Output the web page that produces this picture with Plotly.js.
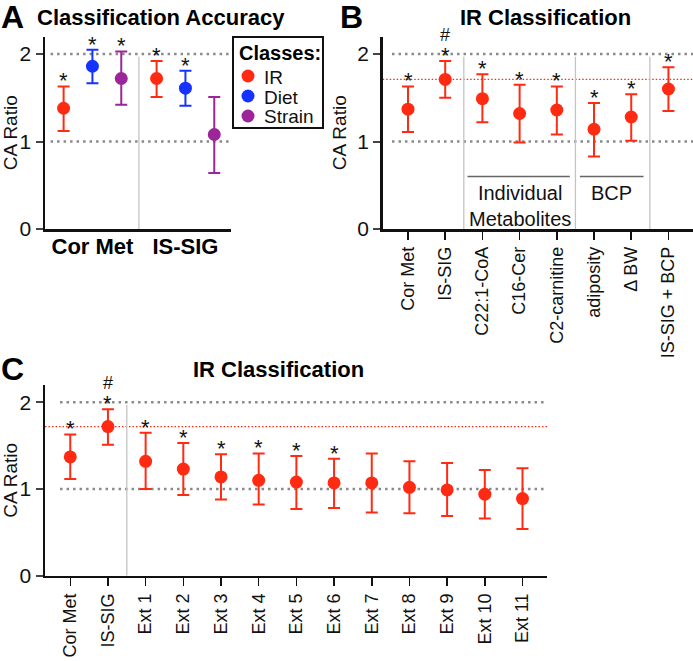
<!DOCTYPE html>
<html>
<head>
<meta charset="utf-8">
<script src="https://cdn.plot.ly/plotly-3.0.1.min.js"></script>
<style>
  html, body { margin: 0; padding: 0; background: #fff; }
  #chart { width: 693px; height: 661px; }
</style>
</head>
<body>
<div id="chart"></div>
<script>
// ---- panel A: classification accuracy by class ----
const groupsA = ['Cor Met', 'IS-SIG'];
const classNames = ['IR', 'Diet', 'Strain'];
const classColors = ['#ff2a12', '#1533ff', '#9b2599'];
const meanA = [[1.38, 1.72], [1.86, 1.61], [1.72, 1.08]];
const hiA = [[1.63, 1.92], [2.05, 1.81], [2.03, 1.51]];
const loA = [[1.12, 1.51], [1.665, 1.41], [1.42, 0.64]];
const starA = [[true, true], [true, true], [true, false]];

// ---- panel B: IR classification ----
const catsB = ['Cor Met', 'IS-SIG', 'C22:1-CoA', 'C16-Cer', 'C2-carnitine', 'adiposity', 'Δ BW', 'IS-SIG + BCP'];
const meanB = [1.37, 1.71, 1.49, 1.32, 1.36, 1.14, 1.28, 1.60];
const hiB = [1.63, 1.92, 1.77, 1.65, 1.63, 1.44, 1.54, 1.85];
const loB = [1.11, 1.50, 1.22, 0.99, 1.08, 0.83, 1.01, 1.35];
const starB = [true, true, true, true, true, true, true, true];
const hashB = [false, true, false, false, false, false, false, false];

// ---- panel C: IR classification, external sets ----
const catsC = ['Cor Met', 'IS-SIG', 'Ext 1', 'Ext 2', 'Ext 3', 'Ext 4', 'Ext 5', 'Ext 6', 'Ext 7', 'Ext 8', 'Ext 9', 'Ext 10', 'Ext 11'];
const meanC = [1.37, 1.72, 1.32, 1.23, 1.14, 1.10, 1.08, 1.07, 1.07, 1.02, 0.99, 0.94, 0.89];
const hiC = [1.63, 1.92, 1.65, 1.53, 1.40, 1.41, 1.38, 1.35, 1.41, 1.32, 1.30, 1.22, 1.24];
const loC = [1.115, 1.51, 1.00, 0.93, 0.88, 0.82, 0.77, 0.78, 0.73, 0.72, 0.69, 0.66, 0.54];
const starC = [true, true, true, true, true, true, true, true, false, false, false, false, false];
const hashC = [false, true, false, false, false, false, false, false, false, false, false, false, false];

const RED = '#ff2a12';
const FONT = 'Arial, "Liberation Sans", sans-serif';
const offsets = [-0.31, 0, 0.31];
const W = 693, H = 661;
const px = (v) => v / W, py = (v) => 1 - v / H;

function errBar(mean, hi, lo, color) {
	return {
		type: 'data', symmetric: false,
		array: hi.map((h, i) => h - mean[i]),
		arrayminus: lo.map((l, i) => mean[i] - l),
		color: color, thickness: 2, width: 6
	};
}

const data = [];
classNames.forEach((name, k) => {
	data.push({
		x: groupsA.map((g, i) => i + 1 + offsets[k]),
		y: meanA[k],
		name: name,
		type: 'scatter', mode: 'markers',
		marker: { color: classColors[k], size: 13 },
		error_y: errBar(meanA[k], hiA[k], loA[k], classColors[k]),
		xaxis: 'x', yaxis: 'y'
	});
});
data.push({
	x: catsB.map((c, i) => i), y: meanB,
	type: 'scatter', mode: 'markers',
	marker: { color: RED, size: 13 },
	error_y: errBar(meanB, hiB, loB, RED),
	xaxis: 'x2', yaxis: 'y2'
});
data.push({
	x: catsC.map((c, i) => i), y: meanC,
	type: 'scatter', mode: 'markers',
	marker: { color: RED, size: 13 },
	error_y: errBar(meanC, hiC, loC, RED),
	xaxis: 'x3', yaxis: 'y3'
});

// significance marks
const annotations = [];
function stars(xs, hi, flags, hashes, xa, ya) {
	xs.forEach((x, i) => {
		if (!flags[i]) return;
		annotations.push({ x: x, y: hi[i], xref: xa, yref: ya, text: '*', showarrow: false,
			yanchor: 'bottom', yshift: -9, font: { family: FONT, size: 22, color: '#111' } });
		if (hashes && hashes[i]) {
			annotations.push({ x: x, y: hi[i], xref: xa, yref: ya, text: '#', showarrow: false,
				yanchor: 'bottom', yshift: 14, font: { family: FONT, size: 18, color: '#111' } });
		}
	});
}
classNames.forEach((n, k) => stars(groupsA.map((g, i) => i + 1 + offsets[k]), hiA[k], starA[k], null, 'x', 'y'));
stars(catsB.map((c, i) => i), hiB, starB, hashB, 'x2', 'y2');
stars(catsC.map((c, i) => i), hiC, starC, hashC, 'x3', 'y3');

// panel letters and titles
const txt = (s, c) => ({ family: FONT, size: s, color: c || '#000' });
const label = (x, y, text, font, xanchor) => ({ x: px(x), y: py(y), xref: 'paper', yref: 'paper', text: text,
	showarrow: false, xanchor: xanchor || 'center', yanchor: 'middle', font: font });
annotations.push(
	label(-1, 17, '<b>A</b>', txt(32), 'left'),
	label(161, 17, '<b>Classification Accuracy</b>', txt(22)),
	label(338, 17, '<b>B</b>', txt(32), 'left'),
	label(545, 17, '<b>IR Classification</b>', txt(22)),
	label(-1, 369, '<b>C</b>', txt(32), 'left'),
	label(278, 369, '<b>IR Classification</b>', txt(22)),
	{ x: 3, y: 0.565, xref: 'x2', yref: 'y2', text: 'Individual<br>Metabolites', showarrow: false, yanchor: 'top', font: txt(20, '#111') },
	{ x: 5.48, y: 0.565, xref: 'x2', yref: 'y2', text: 'BCP', showarrow: false, yanchor: 'top', font: txt(20, '#111') }
);

// reference lines and dividers
const shapes = [];
const dotGray = { color: '#8a8a8a', width: 2.5, dash: '2.5px,4px' };
const dotRed = { color: RED, width: 1.3, dash: '1.5px,2px' };
[['x', 'y'], ['x2', 'y2'], ['x3', 'y3']].forEach(([xa, ya]) => {
	[1, 2].forEach(v => shapes.push({ type: 'line', xref: xa + ' domain', yref: ya, x0: 0.03, x1: 1, y0: v, y1: v, line: dotGray, layer: 'below' }));
});
shapes.push({ type: 'line', xref: 'x2 domain', yref: 'y2', x0: 0, x1: 1, y0: meanB[1], y1: meanB[1], line: dotRed, layer: 'below' });
shapes.push({ type: 'line', xref: 'x3 domain', yref: 'y3', x0: 0, x1: 1, y0: meanC[1], y1: meanC[1], line: dotRed, layer: 'below' });
const divider = { color: '#c4c4c4', width: 1.3 };
[['x', 'y', 1.5], ['x2', 'y2', 1.5], ['x2', 'y2', 4.5], ['x2', 'y2', 6.5], ['x3', 'y3', 1.5]].forEach(([xa, ya, v]) => {
	shapes.push({ type: 'line', xref: xa, yref: ya, x0: v, x1: v, y0: 0, y1: 1.97, line: divider, layer: 'below' });
});
shapes.push({ type: 'line', xref: 'x2', yref: 'y2', x0: 1.6, x1: 4.35, y0: 0.6, y1: 0.6, line: { color: '#666', width: 1.5 } });
shapes.push({ type: 'line', xref: 'x2', yref: 'y2', x0: 4.62, x1: 6.33, y0: 0.6, y1: 0.6, line: { color: '#666', width: 1.5 } });

// class key for panel A
shapes.push({ type: 'rect', xref: 'paper', yref: 'paper', x0: px(233), x1: px(323), y0: py(37), y1: py(128),
	line: { color: '#111', width: 2 }, fillcolor: '#fff' });
annotations.push(label(280, 53, '<b>Classes:</b>', txt(20)));
const keyY = [76, 96, 116];
classNames.forEach((name, k) => {
	shapes.push({ type: 'circle', xref: 'paper', yref: 'paper', xsizemode: 'pixel', ysizemode: 'pixel',
		xanchor: px(248), yanchor: py(keyY[k]), x0: -6.5, x1: 6.5, y0: -6.5, y1: 6.5,
		fillcolor: classColors[k], line: { width: 0 } });
	annotations.push(label(262, keyY[k] + 1, name, txt(19, '#111'), 'left'));
});

function yAxis(domain, anchor) {
	return {
		domain: domain, anchor: anchor, range: [0, 2.2],
		tickvals: [0, 1, 2], ticks: 'outside', ticklen: 7, tickwidth: 2,
		showline: true, linecolor: '#111', linewidth: 2.5, showgrid: false, zeroline: false,
		tickfont: txt(21, '#111'),
		title: { text: 'CA Ratio', font: txt(19, '#111'), standoff: 6 },
		fixedrange: true
	};
}
function xAxis(domain, anchor, range, cats) {
	return {
		domain: domain, anchor: anchor, range: range,
		tickvals: cats.map((c, i) => i), ticktext: cats, tickangle: -90,
		ticks: 'outside', ticklen: 8, tickwidth: 1.5, tickcolor: '#111',
		showline: true, linecolor: '#111', linewidth: 2.5, showgrid: false, zeroline: false,
		tickfont: txt(18, '#111'),
		fixedrange: true
	};
}

const layout = {
	width: W, height: H,
	margin: { l: 0, r: 0, t: 0, b: 0 },
	paper_bgcolor: '#fff', plot_bgcolor: 'rgba(0,0,0,0)',
	font: { family: FONT, color: '#111' },
	showlegend: false,
	xaxis: {
		domain: [px(45), px(231)], anchor: 'y', range: [0.49, 2.49],
		tickvals: [1, 2], ticktext: groupsA.map(g => '<b>' + g + '</b>'), ticks: '',
		ticklabelstandoff: -4,
		showline: true, linecolor: '#111', linewidth: 2.5, showgrid: false, zeroline: false,
		tickfont: txt(22), fixedrange: true
	},
	yaxis: yAxis([py(229), py(36.5)], 'x'),
	xaxis2: xAxis([px(382.7), 1], 'y2', [-0.68, 7.66], catsB),
	yaxis2: yAxis([py(229), py(36.5)], 'x2'),
	xaxis3: xAxis([px(45), px(547)], 'y3', [-0.67, 12.65], catsC),
	yaxis3: yAxis([py(575.7), py(385)], 'x3'),
	annotations: annotations,
	shapes: shapes
};

Plotly.newPlot('chart', data, layout, { staticPlot: true });
</script>
</body>
</html>
